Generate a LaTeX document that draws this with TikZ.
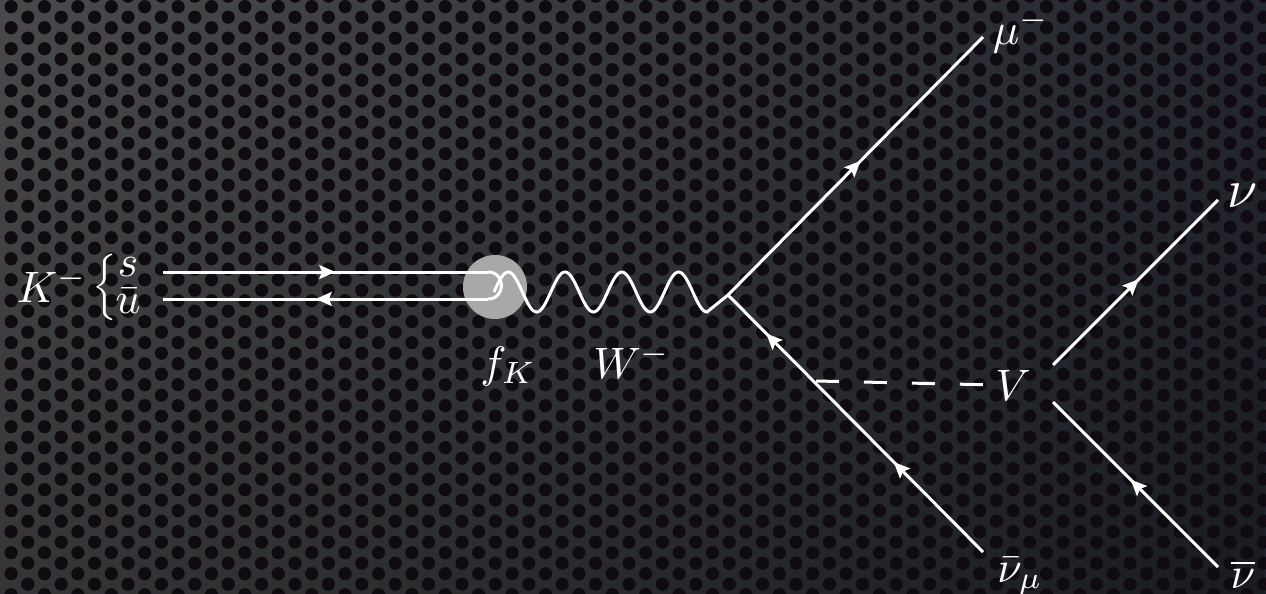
\documentclass[tikz,border=0pt]{standalone}
\usepackage{graphicx}
\usetikzlibrary{decorations.markings,arrows.meta,fadings}
\definecolor{bgA}{RGB}{74,74,76}
\definecolor{bgB}{RGB}{36,39,46}
\definecolor{hole}{RGB}{15,11,16}
\definecolor{blob}{RGB}{168,168,168}
\newcommand{\mylab}[2][2.2]{\scalebox{#1}{$#2$}}
\tikzfading[name=fadedown, top color=transparent!100, bottom color=transparent!72]
\tikzset{mytip/.tip={Stealth[length=8pt,width=7pt,inset=1.4pt]}}
\begin{document}
\begin{tikzpicture}[x=0.5pt,y=-0.5pt,
  line/.style={white, line width=1.5pt},
  fwd/.style={line, postaction={decorate}, decoration={markings, mark=at position #1 with {\arrow{mytip}}}},
  fwdtwo/.style 2 args={line, postaction={decorate}, decoration={markings,
     mark=at position #1 with {\arrow{mytip}},
     mark=at position #2 with {\arrow{mytip}}}},
  boson/.style={white, line width=1.5pt, dash pattern=on 11.5pt off 12.5pt},
  lab/.style={text=white, inner sep=0pt, anchor=base}]
\useasboundingbox (0,0) rectangle (1266,594);
% background: perforated metal
\shade[left color=bgA, right color=bgB] (0,0) rectangle (1266,594);
\fill[black, path fading=fadedown] (0,0) rectangle (1266,594);
\fill[hole] \foreach \i in {0,...,76} { \foreach \j in {-1,...,28} { ({11.1+16.7*\i},{6.7+21*\j+10.5*mod(\i,2)}) circle (3.3pt) } };
% blob
\node[circle, fill=blob, minimum size=32pt, inner sep=0pt] (blob) at (495,287) {};
% coordinates
\coordinate (sIn) at (163,272); \coordinate (sEnd) at (488,272);
\coordinate (uIn) at (163,299); \coordinate (uEnd) at (488,299);
\coordinate (wS) at (494,292);
\coordinate (A) at (728,295);
\coordinate (muE) at (983,37);
\coordinate (nmuE) at (983,552);
\coordinate (D) at (816,381);
\coordinate (nuS) at (1053,365); \coordinate (nuE) at (1218,200);
\coordinate (nbS) at (1218,567); \coordinate (nbE) at (1053,402);
% labels
\node[lab] (K) at (52,302) {\mylab{K^-}};
\node[text=white, inner sep=0pt] (br) at (105,287) {\mylab[1.85]{\Big\{}};
\node[text=white, inner sep=0pt] (su) at (128,288) {\mylab{\renewcommand{\arraystretch}{0.7}\begin{array}{@{}c@{}}s\\ \bar u\end{array}}};
\node[lab] (fK) at (508,377) {\mylab{f_K}};
\node[lab] (W) at (632,378) {\mylab{W^-}};
\node[lab] (mu) at (1021,44) {\mylab{\mu^-}};
\node[lab] (V) at (1013,400) {\mylab{V}};
\node[lab] (nu) at (1243,207) {\mylab[2.7]{\nu}};
\node[lab] (nbm) at (1020,582) {\mylab{\bar\nu_\mu}};
\node[lab] (nb) at (1243,588) {\mylab{\overline{\nu}}};
% quark lines
\draw[fwd=0.53] (sIn) -- (sEnd);
\draw[fwd=0.53] (uEnd) -- (uIn);
\draw[line] (sEnd) .. controls +(18,0) and +(18,0) .. (uEnd);
% W boson
\draw[line] (wS)
  \foreach \k in {1,...,3} { sin ++(14.2,-20) cos ++(14.2,20) sin ++(14.2,20) cos ++(14.2,-20) }
  sin ++(14.2,-20) cos ++(14.2,20) sin ++(14.2,20)
  -- (A);
% leptons
\draw[fwd=0.52] (A) -- (muE);
\draw[fwdtwo={0.35}{0.85}] (nmuE) -- (A);
\draw[boson] (D) -- (V.west);
\draw[fwd=0.52] (nuS) -- (nuE);
\draw[fwd=0.53] (nbS) -- (nbE);
\end{tikzpicture}
\end{document}
